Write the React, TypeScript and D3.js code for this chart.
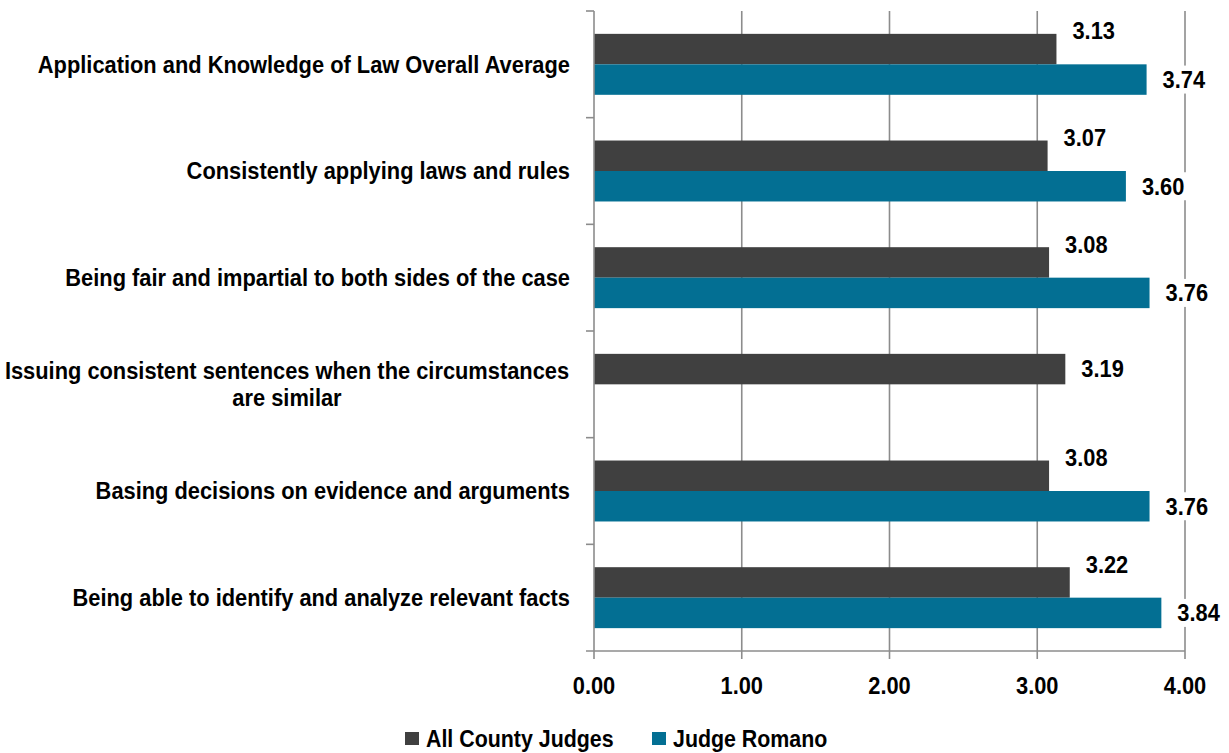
import { scaleBand, scaleLinear } from 'd3'
import type { ReactNode } from 'react'

const WIDTH = 1229
const HEIGHT = 753
const FONT = "'Liberation Sans', Arial, sans-serif"
const SQUEEZE = 0.91

const categories = [
  'Application and Knowledge of Law Overall Average',
  'Consistently applying laws and rules',
  'Being fair and impartial to both sides of the case',
  'Issuing consistent sentences when the circumstances are similar',
  'Basing decisions on evidence and arguments',
  'Being able to identify and analyze relevant facts',
]
const categoryLines = [
  ['Application and Knowledge of Law Overall Average'],
  ['Consistently applying laws and rules'],
  ['Being fair and impartial to both sides of the case'],
  ['Issuing consistent sentences when the circumstances', 'are similar'],
  ['Basing decisions on evidence and arguments'],
  ['Being able to identify and analyze relevant facts'],
]
const seriesNames = ['All County Judges', 'Judge Romano']
const seriesColors = ['#404040', '#036f93']
const countyValues: (number | null)[] = [3.13, 3.07, 3.08, 3.19, 3.08, 3.22]
const romanoValues: (number | null)[] = [3.74, 3.6, 3.76, null, 3.76, 3.84]
const xTicks = [0, 1, 2, 3, 4]

const MARGIN = { left: 594, right: WIDTH - 1185, top: 11, bottom: HEIGHT - 651 }
const GRID = '#8c8c8c'

// narrow bold text, like Arial Narrow
function NText({
  x,
  y,
  size = 24,
  anchor = 'start',
  children,
}: {
  x: number
  y: number
  size?: number
  anchor?: 'start' | 'middle' | 'end'
  children: ReactNode
}) {
  return (
    <text
      transform={`translate(${x},${y}) scale(${SQUEEZE},1)`}
      textAnchor={anchor}
      dominantBaseline="central"
      fontSize={size}
      fill="#000"
    >
      {children}
    </text>
  )
}

export default function App() {
  const x = scaleLinear().domain([0, 4]).range([MARGIN.left, WIDTH - MARGIN.right])
  const y = scaleBand<string>().domain(categories).range([MARGIN.top, HEIGHT - MARGIN.bottom])
  const sub = scaleBand<string>()
    .domain(seriesNames)
    .range([0, y.bandwidth()])
    .paddingInner(0)
    .paddingOuter(0.75)
  const allValues = [countyValues, romanoValues]
  const plotTop = MARGIN.top
  const plotBottom = HEIGHT - MARGIN.bottom

  const labels: { key: string; x: number; y: number; text: string }[] = []

  return (
    <svg
      width={WIDTH}
      height={HEIGHT}
      viewBox={`0 0 ${WIDTH} ${HEIGHT}`}
      style={{ position: 'absolute', left: 0, top: 0, background: '#fff' }}
      fontFamily={FONT}
      fontWeight="bold"
    >
      {xTicks.slice(1).map((t) => (
        <line key={`g${t}`} x1={x(t)} x2={x(t)} y1={plotTop} y2={plotBottom} stroke={GRID} strokeWidth={1.6} />
      ))}

      {categories.map((cat, ci) =>
        seriesNames.map((s, si) => {
          const v = allValues[si][ci]
          if (v == null) return null
          const by = (y(cat) ?? 0) + (sub(s) ?? 0)
          const bh = sub.bandwidth()
          const other = allValues[1 - si][ci]
          const ly = si === 0 && other != null ? by + bh / 2 - 18 : by + bh / 2
          labels.push({ key: `l${ci}-${si}`, x: x(v) + 16, y: ly, text: v.toFixed(2) })
          return <rect key={`b${ci}-${si}`} x={x(0)} y={by} width={x(v) - x(0)} height={bh} fill={seriesColors[si]} />
        })
      )}

      <line x1={x(0)} x2={x(0)} y1={plotTop} y2={plotBottom} stroke={GRID} strokeWidth={1.6} />
      <line x1={x(0) - 8} x2={x(4)} y1={plotBottom} y2={plotBottom} stroke={GRID} strokeWidth={1.6} />
      {categories.map((cat) => (
        <line key={`yt${cat}`} x1={x(0) - 8} x2={x(0)} y1={y(cat)} y2={y(cat)} stroke={GRID} strokeWidth={1.6} />
      ))}
      {xTicks.map((t) => (
        <g key={`xt${t}`}>
          <line x1={x(t)} x2={x(t)} y1={plotBottom} y2={plotBottom + 8} stroke={GRID} strokeWidth={1.6} />
          <NText x={x(t)} y={plotBottom + 35} anchor="middle">
            {t.toFixed(2)}
          </NText>
        </g>
      ))}

      {categories.map((cat, ci) => {
        const lines = categoryLines[ci]
        const cy = (y(cat) ?? 0) + y.bandwidth() / 2
        if (lines.length === 1) {
          return (
            <NText key={`c${ci}`} x={570} y={cy} anchor="end">
              {lines[0]}
            </NText>
          )
        }
        return (
          <g key={`c${ci}`}>
            {lines.map((ln, li) => (
              <NText key={li} x={287} y={cy + (li - (lines.length - 1) / 2) * 27} anchor="middle">
                {ln}
              </NText>
            ))}
          </g>
        )
      })}

      {labels.map((l) => (
        <g key={l.key}>
          <rect x={l.x - 3} y={l.y - 14} width={l.text.length * 12} height={28} fill="#fff" />
          <NText x={l.x} y={l.y}>
            {l.text}
          </NText>
        </g>
      ))}

      {seriesNames.map((s, si) => {
        const lx = si === 0 ? 405 : 652
        return (
          <g key={`lg${si}`}>
            <rect x={lx} y={732} width={14} height={13} fill={seriesColors[si]} />
            <NText x={lx + 21} y={739} size={23.5}>
              {s}
            </NText>
          </g>
        )
      })}
    </svg>
  )
}
